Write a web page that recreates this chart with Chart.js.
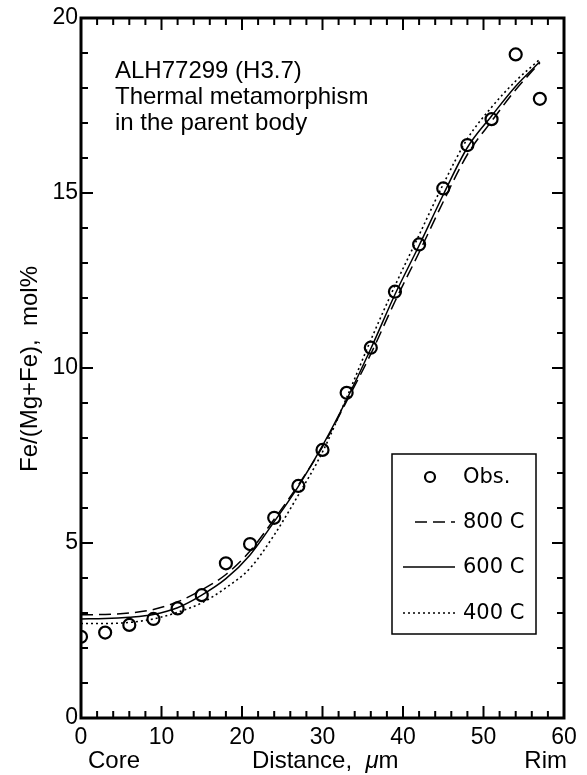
<!DOCTYPE html>
<html>
<head>
<meta charset="utf-8">
<script src="https://cdn.jsdelivr.net/npm/chart.js@4.4.0/dist/chart.umd.min.js"></script>
<style>
  html, body { margin: 0; padding: 0; background: #fff; }
  #wrap { width: 587px; height: 775px; position: relative; }
</style>
</head>
<body>
<div id="wrap"><canvas id="chart"></canvas></div>
<script>
// distance from core (um)
const distance = [0, 3, 6, 9, 12, 15, 18, 21, 24, 27, 30, 33, 36, 39, 42, 45, 48, 51, 54, 57];
// observed Fe/(Mg+Fe) mol%
const obsFe = [2.32, 2.44, 2.66, 2.83, 3.13, 3.51, 4.42, 4.97, 5.72, 6.63, 7.66, 9.29, 10.58, 12.18, 13.53, 15.13, 16.37, 17.11, 18.96, 17.69];
// model profiles
const fe800 = [2.95, 2.96, 3.0, 3.1, 3.32, 3.66, 4.1, 4.77, 5.68, 6.66, 7.75, 9.05, 10.4, 11.9, 13.3, 14.75, 16.1, 17.05, 17.95, 18.72];
const fe600 = [2.83, 2.84, 2.88, 2.96, 3.15, 3.51, 3.98, 4.66, 5.61, 6.62, 7.78, 9.1, 10.55, 12.1, 13.5, 14.95, 16.3, 17.2, 18.05, 18.75];
const fe400 = [2.7, 2.7, 2.73, 2.83, 3.02, 3.29, 3.72, 4.28, 5.23, 6.37, 7.6, 9.15, 10.8, 12.35, 13.8, 15.25, 16.55, 17.45, 18.2, 18.82];
const xTicks = [0, 10, 20, 30, 40, 50, 60];
const yTicks = [0, 5, 10, 15, 20];

const helv = '"Liberation Sans", Arial, sans-serif';
const pts = ys => distance.map((x, i) => ({ x, y: ys[i] }));

function curve(label, ys, dash, width) {
  return {
    label, data: pts(ys), showLine: true, pointRadius: 0,
    borderColor: '#000', borderWidth: width, borderDash: dash,
    tension: 0.4, cubicInterpolationMode: 'monotone', fill: false
  };
}

// frame, inward ticks, texts and legend box
const decor = {
  id: 'decor',
  afterDraw(chart) {
    const ctx = chart.ctx, a = chart.chartArea;
    const xs = chart.scales.x, ys = chart.scales.y;
    ctx.save();
    ctx.strokeStyle = '#000';

    ctx.lineWidth = 2;
    for (let v = 0; v <= 60; v += 2) {
      const px = xs.getPixelForValue(v);
      const len = v % 10 === 0 ? 12 : 7;
      ctx.beginPath();
      ctx.moveTo(px, a.bottom); ctx.lineTo(px, a.bottom - len);
      ctx.moveTo(px, a.top); ctx.lineTo(px, a.top + len);
      ctx.stroke();
    }
    for (let v = 0; v <= 20; v += 1) {
      const py = ys.getPixelForValue(v);
      const len = v % 5 === 0 ? 12 : 7;
      ctx.beginPath();
      ctx.moveTo(a.left, py); ctx.lineTo(a.left + len, py);
      ctx.moveTo(a.right, py); ctx.lineTo(a.right - len, py);
      ctx.stroke();
    }
    ctx.lineWidth = 3;
    ctx.strokeRect(a.left, a.top, a.right - a.left, a.bottom - a.top);

    ctx.fillStyle = '#000';
    ctx.textBaseline = 'alphabetic';
    ctx.font = '24px ' + helv;
    ctx.textAlign = 'left';
    ctx.fillText('ALH77299 (H3.7)', 115, 78);
    ctx.fillText('Thermal metamorphism', 115, 104);
    ctx.fillText('in the parent body', 115, 130);

    ctx.fillText('Core', 88, 768);
    let tx = 252;
    ctx.fillText('Distance,  ', tx, 768);
    tx += ctx.measureText('Distance,  ').width;
    ctx.font = 'italic 24px ' + helv;
    ctx.fillText('\u03bc', tx, 768);
    tx += ctx.measureText('\u03bc').width;
    ctx.font = '24px ' + helv;
    ctx.fillText('m', tx, 768);
    ctx.textAlign = 'right';
    ctx.fillText('Rim', 567, 768);

    ctx.save();
    ctx.translate(30, 369);
    ctx.rotate(-Math.PI / 2);
    ctx.textAlign = 'center';
    ctx.textBaseline = 'middle';
    ctx.fillText('Fe/(Mg+Fe),  mol%', 0, 0);
    ctx.restore();

    // legend
    ctx.lineWidth = 1.5;
    ctx.strokeRect(392, 454, 144, 180);
    const rows = [477, 522, 567, 613];
    ctx.font = '21px "DejaVu Sans", sans-serif';
    ctx.textAlign = 'left';
    ctx.textBaseline = 'middle';
    chart.data.datasets.forEach((ds, i) => {
      const y = rows[i];
      if (!ds.showLine) {
        ctx.lineWidth = 2.2;
        ctx.setLineDash([]);
        ctx.beginPath();
        ctx.arc(430, y, 5, 0, Math.PI * 2);
        ctx.stroke();
      } else {
        ctx.lineWidth = ds.borderWidth;
        ctx.setLineDash(ds.borderDash || []);
        ctx.beginPath();
        const x0 = ds.borderDash && ds.borderDash[0] > 5 ? 415 : 403;
        ctx.moveTo(x0, y); ctx.lineTo(455, y);
        ctx.stroke();
      }
      ctx.setLineDash([]);
      ctx.fillText(ds.label, 463, y + 1);
    });
    ctx.restore();
  }
};

new Chart(document.getElementById('chart'), {
  type: 'scatter',
  data: {
    datasets: [
      {
        label: 'Obs.', data: pts(obsFe), showLine: false,
        pointStyle: 'circle', pointRadius: 6, pointBorderWidth: 2.2,
        pointBorderColor: '#000', pointBackgroundColor: 'rgba(0,0,0,0)'
      },
      curve('800 C', fe800, [12, 6], 1.5),
      curve('600 C', fe600, [], 1.5),
      curve('400 C', fe400, [2, 3], 1.6)
    ]
  },
  options: {
    responsive: true,
    maintainAspectRatio: false,
    animation: false,
    layout: { padding: { top: 18, right: 23, left: 0, bottom: 0 } },
    plugins: { legend: { display: false }, tooltip: { enabled: false } },
    scales: {
      x: {
        type: 'linear', min: 0, max: 60,
        border: { display: false },
        grid: { display: false, drawTicks: false },
        afterBuildTicks: s => { s.ticks = xTicks.map(v => ({ value: v })); },
        ticks: { padding: 6, color: '#000', maxRotation: 0, font: { family: helv, size: 23 } },
        afterFit: s => { s.height = 57; }
      },
      y: {
        type: 'linear', min: 0, max: 20,
        border: { display: false },
        grid: { display: false, drawTicks: false },
        afterBuildTicks: s => { s.ticks = yTicks.map(v => ({ value: v })); },
        ticks: { padding: 3, color: '#000', font: { family: helv, size: 23 } },
        afterFit: s => { s.height; s.width = 81; }
      }
    }
  },
  plugins: [decor]
});
</script>
</body>
</html>
